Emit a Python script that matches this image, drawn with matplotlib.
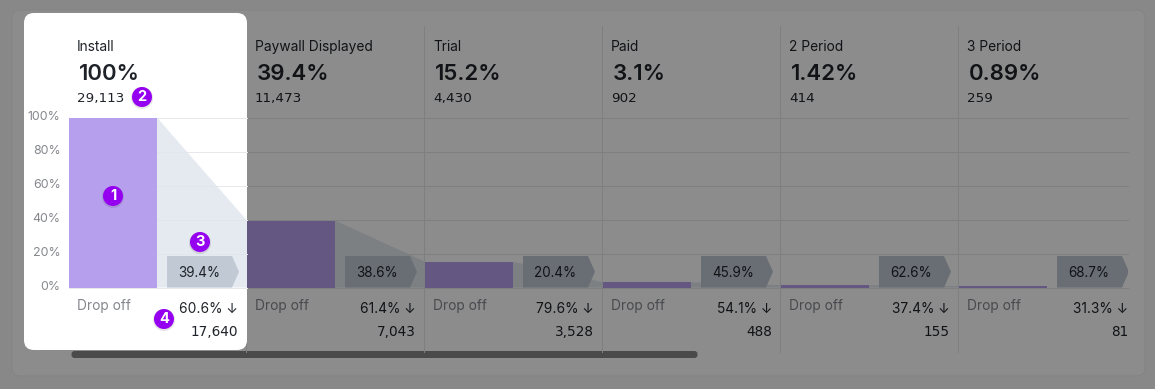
#!/usr/bin/env python3
"""Funnel chart, dimmed behind a highlighted first step with numbered badges."""
import matplotlib
matplotlib.use("Agg")
import matplotlib.pyplot as plt
from matplotlib.patches import FancyBboxPatch, Rectangle, Circle, Polygon
from matplotlib.transforms import ScaledTranslation

plt.rcParams["font.family"] = ["Inter", "DejaVu Sans"]

steps = ["Install", "Paywall Displayed", "Trial", "Paid", "2 Period", "3 Period"]
step_pct = [100, 39.4, 15.2, 3.1, 1.42, 0.89]
step_labels = ["100%", "39.4%", "15.2%", "3.1%", "1.42%", "0.89%"]
step_counts = ["29,113", "11,473", "4,430", "902", "414", "259"]
conversion = ["39.4%", "38.6%", "20.4%", "45.9%", "62.6%", "68.7%"]
dropoff_pct = ["60.6%", "61.4%", "79.6%", "54.1%", "37.4%", "31.3%"]
dropoff_counts = ["17,640", "7,043", "3,528", "488", "155", "81"]
yticks = [0, 20, 40, 60, 80, 100]
badges = [("1", 113, 196), ("2", 142, 97), ("3", 200, 242), ("4", 164, 319)]

W, H = 1155, 389
COL = 178.0       # column width in px
X0 = 69.0         # left edge of plot
Y0, Y100 = 287.5, 117.5
BAR_W = 88 / COL
PX_PCT = (Y0 - Y100) / 100.0
BAR = "#b6a0ee"
FUNNEL = "#e1e6ee"
TAG = "#c0c9d4"
GRID = "#e6e8ec"
PURPLE = "#9600f0"
DARK = "#1f2329"
GRAY = "#85878d"
NUM_FONT = ["DejaVu Sans"]

fig = plt.figure(figsize=(W / 100, H / 100), dpi=100)


def px_axes(z):
    a = fig.add_axes([0, 0, 1, 1], zorder=z)
    a.set_xlim(0, W)
    a.set_ylim(H, 0)
    a.axis("off")
    a.patch.set_alpha(0)
    return a


def chart_axes(left, right, z, x_max):
    a = fig.add_axes([left / W, 1 - Y0 / H, (right - left) / W, (Y0 - Y100) / H], zorder=z)
    a.set_xlim(0, x_max)
    a.set_ylim(0, 100)
    a.patch.set_alpha(0)
    for s in a.spines.values():
        s.set_visible(False)
    a.set_xticks([])
    a.set_yticks([])
    for t in yticks:
        a.axhline(t, color=GRID, lw=0.72, zorder=1, clip_on=False)
    return a


def draw_marks(a, i):
    a.bar(i, step_pct[i], width=BAR_W, align="edge", color=BAR, lw=0, zorder=3)
    if i + 1 < len(step_pct):
        a.add_patch(Polygon([(i + BAR_W, step_pct[i]), (i + 1, step_pct[i + 1]),
                             (i + 1, 0), (i + BAR_W, 0)], closed=True,
                            fc=FUNNEL, ec="none", alpha=0.85, zorder=2))
    x1, x2, x3 = i + 98 / COL, i + 163 / COL, i + 170 / COL
    top = 31.5 / PX_PCT
    a.add_patch(Polygon([(x1, 0), (x1, top), (x2, top), (x3, top / 2), (x2, 0)], closed=True,
                        fc=TAG, ec="none", zorder=4))
    a.text(i + 130 / COL, top / 2 - 1, conversion[i], ha="center", va="center",
           fontsize=9.7, color=DARK, zorder=5)


def draw_text(a, i):
    x = X0 + COL * i
    a.text(x + 8, 46.5, steps[i], ha="left", va="center", fontsize=9.9, color=DARK)
    a.text(x + 9.5, 74, step_labels[i], ha="left", va="center", fontsize=16,
           fontweight="semibold", color=DARK)
    a.text(x + 8, 98, step_counts[i], ha="left", va="center", fontsize=9.7, color=DARK,
           family=NUM_FONT)
    a.text(x + 8, 306, "Drop off", ha="left", va="center", fontsize=9.9, color=GRAY)
    a.text(x + 169, 309, dropoff_pct[i] + " ↓", ha="right", va="center", fontsize=9.9, color=DARK)
    a.text(x + 169, 332, dropoff_counts[i], ha="right", va="center", fontsize=9.8, color=DARK,
           family=NUM_FONT)


# page, panel, separators and scrollbar
base = px_axes(0)
base.add_patch(Rectangle((0, 0), W, H, fc="#f9f9f9", ec="none"))
base.add_patch(FancyBboxPatch((20, 18), 1117, 350, boxstyle="round,pad=8,rounding_size=8",
                              fc="white", ec="#f0f0f0", lw=0.72))
for i in range(1, len(steps)):
    xs = X0 + COL * i - 1
    base.plot([xs, xs], [26, 352], color=GRID, lw=0.72)
base.add_patch(FancyBboxPatch((74.5, 354), 620, 1, boxstyle="round,pad=3,rounding_size=3",
                              fc="#888888", ec="none"))
for i in range(len(steps)):
    draw_text(base, i)

chart = chart_axes(X0, 1128, 1, (1128 - X0) / COL)
for i in range(len(steps)):
    draw_marks(chart, i)

# dim everything, then the white card for the first step
dim = px_axes(2)
dim.add_patch(Rectangle((0, 0), W, H, fc="black", alpha=0.45, ec="none"))
dim.add_patch(FancyBboxPatch((34, 23), 203, 317, boxstyle="round,pad=10,rounding_size=10",
                             fc="white", ec="none"))
draw_text(dim, 0)

top = chart_axes(X0, 247, 3, 1.0)
draw_marks(top, 0)
top.set_yticks(yticks)
top.set_yticklabels([f"{t}%" for t in yticks], fontsize=8.9, color=GRAY)
top.tick_params(axis="y", length=0, pad=6)
for lab in top.get_yticklabels():
    lab.set_transform(lab.get_transform() + ScaledTranslation(0, 1.5 / 72, fig.dpi_scale_trans))

over = px_axes(4)
for label, bx, by in badges:
    over.add_patch(Circle((bx, by + 1), 11, fc="black", alpha=0.10, ec="none"))
    over.add_patch(Circle((bx, by), 10, fc=PURPLE, ec="none"))
    over.text(bx, by, label, ha="center", va="center", color="white", fontsize=10.5, fontweight="bold")

fig.savefig("out.png", dpi=100)
